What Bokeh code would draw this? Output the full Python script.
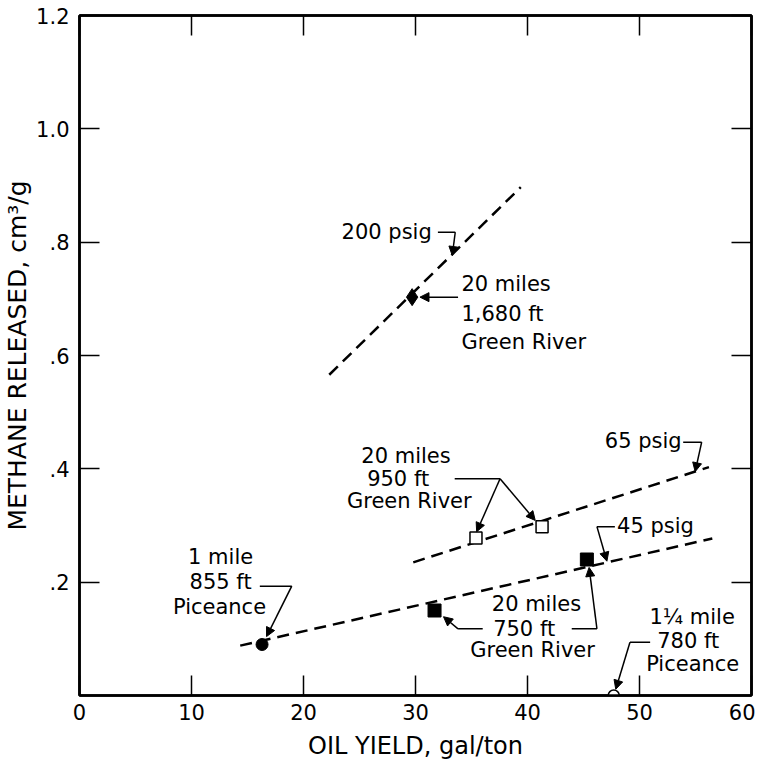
from bokeh.plotting import figure
from bokeh.models import (FixedTicker, LinearAxis, Arrow, NormalHead, ColumnDataSource, Range1d)
from bokeh.core.properties import value
from bokeh.embed import file_html
from bokeh.resources import INLINE

# ---------------- data ----------------
x_ticks = [0, 10, 20, 30, 40, 50, 60]
x_tick_labels = ["0", "10", "20", "30", "40", "50", "60"]
y_ticks = [0.2, 0.4, 0.6, 0.8, 1.0, 1.2]
y_tick_labels = [".2", ".4", ".6", ".8", "1.0", "1.2"]

diamond_x = [29.7]
diamond_y = [0.703]
open_sq_x = [35.4, 41.3]
open_sq_y = [0.278, 0.298]
filled_sq_x = [31.7, 45.3]
filled_sq_y = [0.150, 0.240]
filled_circ_x = [16.3]
filled_circ_y = [0.090]
open_circ_x = [47.7]
open_circ_y = [0.0]

line200_x = [22.3, 39.4]
line200_y = [0.566, 0.897]
line65_x = [29.8, 56.2]
line65_y = [0.235, 0.403]
line45_x = [14.35, 56.5]
line45_y = [0.088, 0.277]

# ---------------- annotation layout ----------------
FONT = "DejaVu Sans"
left_txt = ["200 psig", "20 miles", "1,680 ft", "Green River", "65 psig", "45 psig"]
left_x = [23.4, 34.1, 34.1, 34.1, 46.9, 48.0]
left_y = [0.8175, 0.727, 0.674, 0.6235, 0.450, 0.300]

ctr_txt = ["20 miles", "950 ft", "Green River",
           "1 mile", "855 ft", "Piceance",
           "20 miles", "750 ft", "Green River",
           "1\u00bc mile", "780 ft", "Piceance"]
ctr_x = [29.15, 28.45, 29.45,
         12.6, 12.6, 12.5,
         40.8, 39.7, 40.45,
         54.7, 54.35, 54.75]
ctr_y = [0.4235, 0.3825, 0.344,
         0.244, 0.200, 0.156,
         0.162, 0.1177, 0.0795,
         0.138, 0.097, 0.056]

leader_xs = [[32.0, 33.55], [33.5, 37.55], [53.9, 55.55], [47.8, 46.2],
             [16.1, 18.95], [36.0, 33.8], [43.95, 46.2], [50.95, 49.15]]
leader_ys = [[0.8175, 0.8175], [0.3825, 0.3825], [0.447, 0.447], [0.298, 0.298],
             [0.193, 0.193], [0.1177, 0.1177], [0.1177, 0.1177], [0.094, 0.094]]

arr_x0 = [33.55, 33.8, 37.55, 37.55, 55.55, 46.2, 18.95, 33.8, 46.2, 49.15]
arr_y0 = [0.8175, 0.703, 0.3825, 0.3825, 0.447, 0.298, 0.193, 0.1177, 0.1177, 0.094]
arr_x1 = [33.28, 30.4, 35.46, 40.69, 54.97, 47.09, 16.7, 32.5, 45.5, 47.88]
arr_y1 = [0.7765, 0.703, 0.289, 0.309, 0.395, 0.237, 0.104, 0.139, 0.226, 0.011]

# ---------------- figure ----------------
p = figure(frame_width=672, frame_height=680,
           x_range=Range1d(0, 60), y_range=Range1d(0, 1.2),
           output_backend="svg", toolbar_location=None,
           min_border_left=71, min_border_right=4, min_border_top=15, min_border_bottom=60,
           x_axis_label="OIL YIELD, gal/ton", y_axis_label="METHANE RELEASED, cm\u00b3/g")
p.grid.visible = False
p.outline_line_color = "black"
p.outline_line_width = 2.5
p.background_fill_color = "white"
p.border_fill_color = "white"

def style_axis(ax, ticks, labels=None):
    ax.ticker = FixedTicker(ticks=ticks)
    ax.axis_line_width = 2.5
    ax.axis_line_color = "black"
    ax.major_tick_in = 20
    ax.major_tick_out = 0
    ax.major_tick_line_width = 1.5
    ax.major_tick_line_color = "black"
    ax.minor_tick_line_color = None
    if labels is None:
        ax.major_label_overrides = {t: "" for t in ticks}
        ax.major_label_standoff = 0
    else:
        ax.major_label_overrides = {t: l for t, l in zip(ticks, labels)}
        ax.major_label_text_font = FONT
        ax.major_label_text_font_size = "21px"
        ax.major_label_text_color = "black"
    ax.axis_label_text_font = FONT
    ax.axis_label_text_font_style = "normal"
    ax.axis_label_text_color = "black"

style_axis(p.xaxis[0], x_ticks, x_tick_labels)
p.xaxis[0].major_label_standoff = 8
p.xaxis[0].axis_label_text_font_size = "24px"
p.xaxis[0].axis_label_standoff = 9
style_axis(p.yaxis[0], y_ticks, y_tick_labels)
p.yaxis[0].major_label_standoff = 10
p.yaxis[0].axis_label_text_font_size = "25px"
p.yaxis[0].axis_label_standoff = 1

top_ax = LinearAxis()
style_axis(top_ax, x_ticks)
p.add_layout(top_ax, "above")
right_ax = LinearAxis()
style_axis(right_ax, y_ticks)
p.add_layout(right_ax, "right")

dash = "12 7"
for xs, ys in [(line200_x, line200_y), (line65_x, line65_y), (line45_x, line45_y)]:
    p.line(xs, ys, line_color="black", line_width=2.5, line_dash=dash)

# markers
p.scatter(diamond_x, diamond_y, marker="diamond", size=17, fill_color="black", line_color="black")
p.scatter(open_sq_x, open_sq_y, marker="square", size=12, fill_color="white", line_color="black", line_width=1.5)
p.scatter(filled_sq_x, filled_sq_y, marker="square", size=13, fill_color="black", line_color="black")
p.scatter(filled_circ_x, filled_circ_y, marker="circle", size=12, fill_color="black", line_color="black")
p.scatter(open_circ_x, open_circ_y, marker="circle", size=11, fill_color="white", line_color="black", line_width=1.5)

# annotations
p.multi_line(leader_xs, leader_ys, line_color="black", line_width=1.5)
arr_src = ColumnDataSource(dict(x0=arr_x0, y0=arr_y0, x1=arr_x1, y1=arr_y1))
p.add_layout(Arrow(end=NormalHead(size=9, fill_color="black", line_color="black"),
                   x_start="x0", y_start="y0", x_end="x1", y_end="y1",
                   line_color="black", line_width=1.5, source=arr_src))

p.text(left_x, left_y, text=left_txt, text_font=value(FONT), text_font_size="21px",
       text_align="left", text_baseline="middle", text_color="black")
p.text(ctr_x, ctr_y, text=ctr_txt, text_font=value(FONT), text_font_size="21px",
       text_align="center", text_baseline="middle", text_color="black")

open("out.html", "w").write(file_html(p, INLINE))
